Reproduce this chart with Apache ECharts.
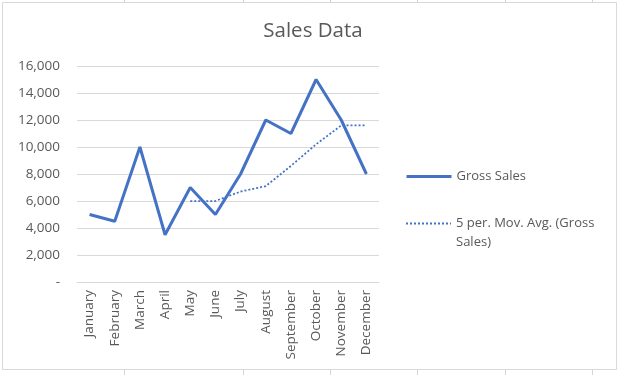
<!DOCTYPE html>
<html><head><meta charset="utf-8">
<script src="https://cdn.jsdelivr.net/npm/echarts@6/dist/echarts.min.js"></script>
<style>html,body{margin:0;padding:0;background:#fff}#c{width:620px;height:375px}</style>
</head><body><div id="c"></div>
<script>
const months = ['January','February','March','April','May','June','July','August','September','October','November','December'];
const grossSales = [5000,4500,10000,3500,7000,5000,8000,12000,11000,15000,12000,8000];
const movingAvg = [null,null,null,null,6000,6000,6700,7100,8600,10200,11600,11600];
const yTicks = {min:0, max:16000, interval:2000};

const chart = echarts.init(document.getElementById('c'));
const FONT = '"Open Sans", "Noto Sans", sans-serif';
const colLines = [124,243,330,417,505,592];
const graphics = [{type:'rect', shape:{x:2.5,y:2.5,width:614,height:367}, style:{fill:'none', stroke:'#d9d9d9', lineWidth:1}, z:-1}];
colLines.forEach(x=>{
  graphics.push({type:'line', shape:{x1:x+0.5,y1:0,x2:x+0.5,y2:2}, style:{stroke:'#d4d4d4'}});
  graphics.push({type:'line', shape:{x1:x+0.5,y1:370,x2:x+0.5,y2:375}, style:{stroke:'#d4d4d4'}});
});
chart.setOption({
  animation:false,
  backgroundColor:'#fff',
  textStyle:{fontFamily:FONT},
  title:{text:'Sales Data', left:308, textAlign:'center', top:16,
    textStyle:{fontFamily:FONT, fontSize:20.5, fontWeight:'normal', color:'#595959'}},
  grid:{left:77, right:241, top:66, bottom:93},
  graphic:graphics,
  legend:[
    {orient:'vertical', left:405, top:170, padding:0, itemWidth:45, itemHeight:12,
     itemStyle:{opacity:0}, lineStyle:{width:3},
     data:['Gross Sales'],
     textStyle:{fontFamily:FONT, fontSize:13, color:'#595959'}},
    {orient:'vertical', left:405, top:195, padding:0, itemWidth:45, itemHeight:12,
     itemStyle:{opacity:0}, lineStyle:{width:2},
     data:['5 per. Mov. Avg. (Gross Sales)'],
     formatter:()=>'{e|}\n{t|5 per. Mov. Avg. (Gross}\n{t|Sales)}',
     textStyle:{fontFamily:FONT, fontSize:13, color:'#595959', lineHeight:19,
       rich:{e:{height:19, lineHeight:19, fontSize:13}, t:{lineHeight:19, height:19, fontSize:13, color:'#595959', fontFamily:FONT}}}}
  ],
  xAxis:{type:'category', data:months, boundaryGap:true,
    axisLine:{lineStyle:{color:'#d9d9d9'}}, axisTick:{show:false},
    axisLabel:{rotate:90, color:'#595959', fontFamily:FONT, fontSize:13.5, margin:8, interval:0}},
  yAxis:{type:'value', min:yTicks.min, max:yTicks.max, interval:yTicks.interval,
    axisLine:{show:false}, axisTick:{show:false},
    splitLine:{lineStyle:{color:'#d9d9d9'}},
    axisLabel:{color:'#595959', fontFamily:FONT, fontSize:13.5, margin:17,
      formatter:v=> v===0 ? '-' : v.toLocaleString('en-US')}},
  series:[
    {name:'Gross Sales', type:'line', data:grossSales, symbol:'none',
     lineStyle:{color:'#4472C4', width:3}, itemStyle:{color:'#4472C4'}},
    {name:'5 per. Mov. Avg. (Gross Sales)', type:'line', data:movingAvg, symbol:'none',
     lineStyle:{color:'#4472C4', width:1.75, type:[2,2]}, itemStyle:{color:'#4472C4'}}
  ]
});
</script></body></html>
